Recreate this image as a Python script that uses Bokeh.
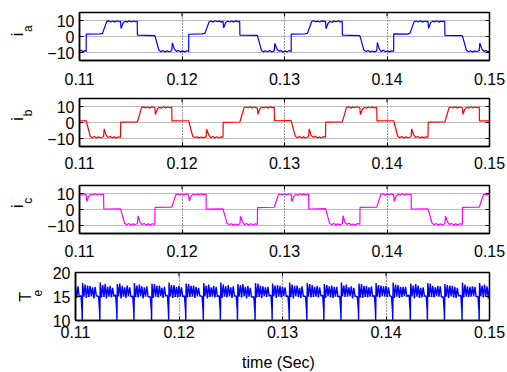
import math
from bokeh.plotting import figure
from bokeh.layouts import column, row
from bokeh.models import Range1d
from bokeh.core.properties import value
from bokeh.embed import file_html
from bokeh.resources import INLINE

FONT = "Liberation Sans"

x_ticks = [0.11, 0.12, 0.13, 0.14, 0.15]
cur_ticks = [-10, 0, 10]
te_ticks = [10, 15, 20]
x_label = "time (Sec)"
y_main = ["i", "i", "i", "T"]
y_sub = ["a", "b", "c", "e"]

ia_t = [0.11000, 0.11020, 0.11035, 0.11050,
        0.11065, 0.11066, 0.11200, 0.11225, 0.11265, 0.11285, 0.11305, 0.11325, 0.11345, 0.11365, 0.11385, 0.11400, 0.11406, 0.11425, 0.11445, 0.11465, 0.11485, 0.11505, 0.11525, 0.11545, 0.11563, 0.11565, 0.11735, 0.11775, 0.11795, 0.11815, 0.11835, 0.11855, 0.11875, 0.11900, 0.11906, 0.11925, 0.11945, 0.11965, 0.11985, 0.12005, 0.12025, 0.12045,
        0.12065, 0.12066, 0.12200, 0.12225, 0.12265, 0.12285, 0.12305, 0.12325, 0.12345, 0.12365, 0.12385, 0.12400, 0.12406, 0.12425, 0.12445, 0.12465, 0.12485, 0.12505, 0.12525, 0.12545, 0.12563, 0.12565, 0.12735, 0.12775, 0.12795, 0.12815, 0.12835, 0.12855, 0.12875, 0.12900, 0.12906, 0.12925, 0.12945, 0.12965, 0.12985, 0.13005, 0.13025, 0.13045,
        0.13065, 0.13066, 0.13200, 0.13225, 0.13265, 0.13285, 0.13305, 0.13325, 0.13345, 0.13365, 0.13385, 0.13400, 0.13406, 0.13425, 0.13445, 0.13465, 0.13485, 0.13505, 0.13525, 0.13545, 0.13563, 0.13565, 0.13735, 0.13775, 0.13795, 0.13815, 0.13835, 0.13855, 0.13875, 0.13900, 0.13906, 0.13925, 0.13945, 0.13965, 0.13985, 0.14005, 0.14025, 0.14045,
        0.14065, 0.14066, 0.14200, 0.14225, 0.14265, 0.14285, 0.14305, 0.14325, 0.14345, 0.14365, 0.14385, 0.14400, 0.14406, 0.14425, 0.14445, 0.14465, 0.14485, 0.14505, 0.14525, 0.14545, 0.14563, 0.14565, 0.14735, 0.14775, 0.14795, 0.14815, 0.14835, 0.14855, 0.14875, 0.14900, 0.14906, 0.14925, 0.14945, 0.14965, 0.14985, 0.15005]
ia_v = [-9.2, -8.6, -9.7, -8.8,
        -9.4, 1.5, 1.6, 2.0, 9.3, 9.8, 9.1, 9.7, 9.0, 9.8, 9.2, 9.6, 5.0, 8.4, 9.5, 9.0, 9.8, 9.1, 9.7, 9.2, 9.6, 0.8, 0.6, -8.6, -9.5, -8.8, -9.7, -9.0, -9.5, -8.9, -4.0, -7.8, -9.3, -8.7, -9.6, -9.0, -9.7, -8.9,
        -9.3, 1.4, 1.6, 2.1, 9.2, 9.7, 9.0, 9.8, 9.2, 9.6, 9.0, 9.7, 5.3, 8.6, 9.6, 9.1, 9.7, 9.0, 9.8, 9.3, 9.5, 0.9, 0.7, -8.7, -9.6, -8.9, -9.5, -8.8, -9.7, -9.0, -4.3, -7.6, -9.2, -8.8, -9.7, -9.1, -9.5, -8.8,
        -9.5, 1.5, 1.7, 2.0, 9.4, 9.9, 9.2, 9.6, 9.1, 9.8, 9.3, 9.7, 4.8, 8.3, 9.4, 9.0, 9.7, 9.2, 9.8, 9.1, 9.6, 0.8, 0.5, -8.5, -9.4, -8.7, -9.6, -9.1, -9.6, -9.0, -3.8, -7.9, -9.4, -8.6, -9.5, -8.9, -9.6, -9.0,
        -9.2, 1.6, 1.5, 2.1, 9.3, 9.7, 9.1, 9.8, 9.0, 9.7, 9.2, 9.5, 5.1, 8.5, 9.6, 9.1, 9.8, 9.0, 9.6, 9.3, 9.7, 0.7, 0.6, -8.6, -9.5, -8.9, -9.7, -9.0, -9.4, -8.8, -4.1, -7.7, -9.3, -8.8, -9.6, -9.1]

ib_t = [0.11000, 0.11040,
        0.11065, 0.11105, 0.11125, 0.11145, 0.11165, 0.11185, 0.11205, 0.11235, 0.11241, 0.11260, 0.11280, 0.11300, 0.11320, 0.11340, 0.11360, 0.11380, 0.11400, 0.11402, 0.11565, 0.11605, 0.11625, 0.11645, 0.11665, 0.11685, 0.11705, 0.11735, 0.11741, 0.11760, 0.11780, 0.11800, 0.11820, 0.11840, 0.11860, 0.11880, 0.11900, 0.11902, 0.12045,
        0.12065, 0.12105, 0.12125, 0.12145, 0.12165, 0.12185, 0.12205, 0.12235, 0.12241, 0.12260, 0.12280, 0.12300, 0.12320, 0.12340, 0.12360, 0.12380, 0.12400, 0.12402, 0.12565, 0.12605, 0.12625, 0.12645, 0.12665, 0.12685, 0.12705, 0.12735, 0.12741, 0.12760, 0.12780, 0.12800, 0.12820, 0.12840, 0.12860, 0.12880, 0.12900, 0.12902, 0.13045,
        0.13065, 0.13105, 0.13125, 0.13145, 0.13165, 0.13185, 0.13205, 0.13235, 0.13241, 0.13260, 0.13280, 0.13300, 0.13320, 0.13340, 0.13360, 0.13380, 0.13400, 0.13402, 0.13565, 0.13605, 0.13625, 0.13645, 0.13665, 0.13685, 0.13705, 0.13735, 0.13741, 0.13760, 0.13780, 0.13800, 0.13820, 0.13840, 0.13860, 0.13880, 0.13900, 0.13902, 0.14045,
        0.14065, 0.14105, 0.14125, 0.14145, 0.14165, 0.14185, 0.14205, 0.14235, 0.14241, 0.14260, 0.14280, 0.14300, 0.14320, 0.14340, 0.14360, 0.14380, 0.14400, 0.14402, 0.14565, 0.14605, 0.14625, 0.14645, 0.14665, 0.14685, 0.14705, 0.14735, 0.14741, 0.14760, 0.14780, 0.14800, 0.14820, 0.14840, 0.14860, 0.14880, 0.14900, 0.14902, 0.15045]
ib_v = [1.0, 1.1,
        1.2, -8.6, -9.5, -8.8, -9.7, -9.0, -9.5, -8.9, -4.0, -7.9, -9.4, -8.7, -9.6, -9.0, -9.6, -8.9, -9.3, 0.2, 0.3, 9.3, 9.8, 9.1, 9.7, 9.0, 9.8, 9.2, 5.0, 8.4, 9.5, 9.0, 9.8, 9.1, 9.7, 9.2, 9.6, 1.0, 1.1,
        1.1, -8.7, -9.4, -8.9, -9.6, -9.1, -9.4, -9.0, -4.2, -7.7, -9.5, -8.8, -9.7, -8.9, -9.5, -9.0, -9.4, 0.1, 0.3, 9.2, 9.7, 9.2, 9.8, 9.1, 9.7, 9.0, 5.2, 8.6, 9.6, 9.1, 9.7, 9.0, 9.8, 9.3, 9.5, 1.1, 1.2,
        1.2, -8.5, -9.6, -8.7, -9.5, -9.0, -9.7, -8.8, -3.9, -8.0, -9.3, -8.6, -9.5, -9.1, -9.7, -8.8, -9.2, 0.2, 0.4, 9.4, 9.9, 9.0, 9.6, 9.2, 9.8, 9.1, 4.9, 8.3, 9.4, 9.0, 9.7, 9.2, 9.6, 9.1, 9.7, 1.0, 1.1,
        1.1, -8.6, -9.5, -8.8, -9.7, -9.0, -9.5, -8.9, -4.1, -7.8, -9.4, -8.7, -9.6, -9.0, -9.6, -8.9, -9.3, 0.2, 0.3, 9.3, 9.7, 9.1, 9.8, 9.0, 9.7, 9.2, 5.1, 8.5, 9.5, 9.0, 9.8, 9.1, 9.7, 9.2, 9.6, 1.0, 1.1]

ic_t = [0.11000, 0.11020, 0.11040,
        0.11065, 0.11071, 0.11090, 0.11110, 0.11130, 0.11150, 0.11170, 0.11190, 0.11210, 0.11235, 0.11237, 0.11400, 0.11440, 0.11460, 0.11480, 0.11500, 0.11520, 0.11540, 0.11565, 0.11571, 0.11590, 0.11610, 0.11630, 0.11650, 0.11670, 0.11690, 0.11710, 0.11735, 0.11737, 0.11900, 0.11940, 0.11960, 0.11980, 0.12000, 0.12020, 0.12040,
        0.12065, 0.12071, 0.12090, 0.12110, 0.12130, 0.12150, 0.12170, 0.12190, 0.12210, 0.12235, 0.12237, 0.12400, 0.12440, 0.12460, 0.12480, 0.12500, 0.12520, 0.12540, 0.12565, 0.12571, 0.12590, 0.12610, 0.12630, 0.12650, 0.12670, 0.12690, 0.12710, 0.12735, 0.12737, 0.12900, 0.12940, 0.12960, 0.12980, 0.13000, 0.13020, 0.13040,
        0.13065, 0.13071, 0.13090, 0.13110, 0.13130, 0.13150, 0.13170, 0.13190, 0.13210, 0.13235, 0.13237, 0.13400, 0.13440, 0.13460, 0.13480, 0.13500, 0.13520, 0.13540, 0.13565, 0.13571, 0.13590, 0.13610, 0.13630, 0.13650, 0.13670, 0.13690, 0.13710, 0.13735, 0.13737, 0.13900, 0.13940, 0.13960, 0.13980, 0.14000, 0.14020, 0.14040,
        0.14065, 0.14071, 0.14090, 0.14110, 0.14130, 0.14150, 0.14170, 0.14190, 0.14210, 0.14235, 0.14237, 0.14400, 0.14440, 0.14460, 0.14480, 0.14500, 0.14520, 0.14540, 0.14565, 0.14571, 0.14590, 0.14610, 0.14630, 0.14650, 0.14670, 0.14690, 0.14710, 0.14735, 0.14737, 0.14900, 0.14940, 0.14960, 0.14980, 0.15000, 0.15020, 0.15040]
ic_v = [9.4, 9.0, 9.8,
        9.3, 5.0, 8.3, 9.5, 9.0, 9.8, 9.1, 9.7, 9.2, 9.6, 0.3, 0.4, -8.6, -9.5, -8.8, -9.7, -9.0, -9.4, -8.9, -4.0, -7.9, -9.4, -8.7, -9.6, -9.0, -9.6, -8.9, -9.3, 1.3, 1.4, 9.3, 9.8, 9.1, 9.7, 9.0, 9.8,
        9.2, 5.3, 8.5, 9.6, 9.1, 9.7, 9.0, 9.8, 9.3, 9.5, 0.2, 0.4, -8.7, -9.4, -8.9, -9.6, -9.1, -9.5, -9.0, -4.2, -7.7, -9.5, -8.8, -9.7, -8.9, -9.5, -9.0, -9.4, 1.2, 1.4, 9.2, 9.7, 9.2, 9.8, 9.1, 9.7,
        9.4, 4.8, 8.2, 9.4, 9.0, 9.9, 9.2, 9.6, 9.1, 9.7, 0.3, 0.5, -8.5, -9.6, -8.7, -9.5, -9.0, -9.7, -8.8, -3.9, -8.0, -9.3, -8.6, -9.5, -9.1, -9.7, -8.8, -9.2, 1.3, 1.5, 9.4, 9.9, 9.0, 9.6, 9.2, 9.8,
        9.3, 5.1, 8.4, 9.5, 9.1, 9.8, 9.0, 9.7, 9.2, 9.6, 0.3, 0.4, -8.6, -9.5, -8.8, -9.7, -9.0, -9.5, -8.9, -4.1, -7.8, -9.4, -8.7, -9.6, -9.0, -9.6, -8.9, -9.3, 1.3, 1.4, 9.3, 9.7, 9.1, 9.8, 9.0, 9.7]

te_t = [0.11000, 0.11012, 0.11024, 0.11036,
        0.11053, 0.11063, 0.11065, 0.11069, 0.11081, 0.11093, 0.11105, 0.11117, 0.11129, 0.11141, 0.11153, 0.11165, 0.11177, 0.11189, 0.11201,
        0.11223, 0.11233, 0.11235, 0.11239, 0.11251, 0.11263, 0.11275, 0.11287, 0.11299, 0.11311, 0.11323, 0.11335, 0.11347, 0.11359, 0.11371,
        0.11388, 0.11398, 0.11400, 0.11404, 0.11416, 0.11428, 0.11440, 0.11452, 0.11464, 0.11476, 0.11488, 0.11500, 0.11512, 0.11524, 0.11536,
        0.11553, 0.11563, 0.11565, 0.11569, 0.11581, 0.11593, 0.11605, 0.11617, 0.11629, 0.11641, 0.11653, 0.11665, 0.11677, 0.11689, 0.11701,
        0.11723, 0.11733, 0.11735, 0.11739, 0.11751, 0.11763, 0.11775, 0.11787, 0.11799, 0.11811, 0.11823, 0.11835, 0.11847, 0.11859, 0.11871,
        0.11888, 0.11898, 0.11900, 0.11904, 0.11916, 0.11928, 0.11940, 0.11952, 0.11964, 0.11976, 0.11988, 0.12000, 0.12012, 0.12024, 0.12036,
        0.12053, 0.12063, 0.12065, 0.12069, 0.12081, 0.12093, 0.12105, 0.12117, 0.12129, 0.12141, 0.12153, 0.12165, 0.12177, 0.12189, 0.12201,
        0.12223, 0.12233, 0.12235, 0.12239, 0.12251, 0.12263, 0.12275, 0.12287, 0.12299, 0.12311, 0.12323, 0.12335, 0.12347, 0.12359, 0.12371,
        0.12388, 0.12398, 0.12400, 0.12404, 0.12416, 0.12428, 0.12440, 0.12452, 0.12464, 0.12476, 0.12488, 0.12500, 0.12512, 0.12524, 0.12536,
        0.12553, 0.12563, 0.12565, 0.12569, 0.12581, 0.12593, 0.12605, 0.12617, 0.12629, 0.12641, 0.12653, 0.12665, 0.12677, 0.12689, 0.12701,
        0.12723, 0.12733, 0.12735, 0.12739, 0.12751, 0.12763, 0.12775, 0.12787, 0.12799, 0.12811, 0.12823, 0.12835, 0.12847, 0.12859, 0.12871,
        0.12888, 0.12898, 0.12900, 0.12904, 0.12916, 0.12928, 0.12940, 0.12952, 0.12964, 0.12976, 0.12988, 0.13000, 0.13012, 0.13024, 0.13036,
        0.13053, 0.13063, 0.13065, 0.13069, 0.13081, 0.13093, 0.13105, 0.13117, 0.13129, 0.13141, 0.13153, 0.13165, 0.13177, 0.13189, 0.13201,
        0.13223, 0.13233, 0.13235, 0.13239, 0.13251, 0.13263, 0.13275, 0.13287, 0.13299, 0.13311, 0.13323, 0.13335, 0.13347, 0.13359, 0.13371,
        0.13388, 0.13398, 0.13400, 0.13404, 0.13416, 0.13428, 0.13440, 0.13452, 0.13464, 0.13476, 0.13488, 0.13500, 0.13512, 0.13524, 0.13536,
        0.13553, 0.13563, 0.13565, 0.13569, 0.13581, 0.13593, 0.13605, 0.13617, 0.13629, 0.13641, 0.13653, 0.13665, 0.13677, 0.13689, 0.13701,
        0.13723, 0.13733, 0.13735, 0.13739, 0.13751, 0.13763, 0.13775, 0.13787, 0.13799, 0.13811, 0.13823, 0.13835, 0.13847, 0.13859, 0.13871,
        0.13888, 0.13898, 0.13900, 0.13904, 0.13916, 0.13928, 0.13940, 0.13952, 0.13964, 0.13976, 0.13988, 0.14000, 0.14012, 0.14024, 0.14036,
        0.14053, 0.14063, 0.14065, 0.14069, 0.14081, 0.14093, 0.14105, 0.14117, 0.14129, 0.14141, 0.14153, 0.14165, 0.14177, 0.14189, 0.14201,
        0.14223, 0.14233, 0.14235, 0.14239, 0.14251, 0.14263, 0.14275, 0.14287, 0.14299, 0.14311, 0.14323, 0.14335, 0.14347, 0.14359, 0.14371,
        0.14388, 0.14398, 0.14400, 0.14404, 0.14416, 0.14428, 0.14440, 0.14452, 0.14464, 0.14476, 0.14488, 0.14500, 0.14512, 0.14524, 0.14536,
        0.14553, 0.14563, 0.14565, 0.14569, 0.14581, 0.14593, 0.14605, 0.14617, 0.14629, 0.14641, 0.14653, 0.14665, 0.14677, 0.14689, 0.14701,
        0.14723, 0.14733, 0.14735, 0.14739, 0.14751, 0.14763, 0.14775, 0.14787, 0.14799, 0.14811, 0.14823, 0.14835, 0.14847, 0.14859, 0.14871,
        0.14888, 0.14898, 0.14900, 0.14904, 0.14916, 0.14928, 0.14940, 0.14952, 0.14964, 0.14976, 0.14988, 0.15000, 0.15012, 0.15024, 0.15036]
te_v = [17.0, 14.7, 17.1, 14.9,
        15.2, 12.0, 10.1, 17.8, 15.0, 17.5, 14.7, 17.3, 14.9, 17.2, 15.1, 16.9, 14.6, 17.0, 15.2,
        15.0, 11.8, 10.1, 17.9, 14.8, 17.4, 14.9, 17.6, 14.6, 17.0, 15.0, 17.2, 14.8, 16.8, 15.1,
        15.3, 12.2, 10.1, 17.6, 15.1, 17.7, 14.6, 17.2, 15.0, 16.9, 14.7, 17.3, 15.1, 16.9, 14.9,
        15.1, 11.9, 10.1, 17.8, 14.9, 17.3, 14.8, 17.5, 15.1, 17.1, 14.6, 16.9, 15.0, 17.1, 15.0,
        14.9, 12.1, 10.1, 17.7, 14.7, 17.6, 15.0, 17.2, 14.8, 17.3, 15.1, 16.8, 14.7, 17.0, 15.2,
        15.2, 11.9, 10.1, 17.9, 15.0, 17.4, 14.7, 17.4, 14.9, 17.0, 14.8, 17.2, 15.0, 16.9, 15.0,
        15.1, 12.1, 10.1, 17.7, 14.8, 17.6, 14.9, 17.2, 15.0, 17.3, 14.7, 17.0, 15.1, 16.8, 15.2,
        15.0, 11.9, 10.1, 17.8, 15.1, 17.3, 14.6, 17.5, 14.9, 16.9, 15.0, 17.2, 14.8, 17.0, 15.0,
        15.2, 12.0, 10.1, 17.9, 14.7, 17.5, 15.0, 17.1, 14.8, 17.4, 15.1, 16.9, 14.7, 17.1, 15.1,
        15.1, 12.2, 10.1, 17.6, 15.0, 17.4, 14.8, 17.6, 15.1, 17.0, 14.6, 17.2, 15.0, 16.8, 14.9,
        14.9, 11.8, 10.1, 17.8, 14.8, 17.7, 14.9, 17.3, 14.7, 17.1, 15.1, 16.9, 14.9, 17.0, 15.2,
        15.3, 12.1, 10.1, 17.7, 15.1, 17.3, 14.7, 17.4, 15.0, 17.2, 14.8, 17.0, 15.1, 16.9, 15.0,
        15.1, 12.0, 10.1, 17.9, 14.9, 17.5, 14.6, 17.2, 15.1, 17.3, 14.9, 16.8, 14.7, 17.1, 15.1,
        15.0, 11.9, 10.1, 17.8, 15.0, 17.6, 14.8, 17.4, 14.9, 17.0, 15.0, 17.2, 14.8, 16.9, 15.2,
        15.2, 12.2, 10.1, 17.6, 14.7, 17.4, 15.1, 17.1, 14.8, 17.3, 14.7, 17.0, 15.0, 17.0, 14.9,
        15.1, 11.8, 10.1, 17.9, 15.1, 17.3, 14.9, 17.5, 15.0, 16.9, 15.1, 17.1, 14.6, 16.8, 15.1,
        14.9, 12.1, 10.1, 17.7, 14.8, 17.6, 14.7, 17.2, 14.9, 17.2, 14.8, 16.9, 15.0, 17.1, 15.0,
        15.2, 12.0, 10.1, 17.8, 15.0, 17.4, 14.8, 17.3, 15.1, 17.1, 15.0, 17.2, 14.9, 16.9, 15.2,
        15.0, 11.9, 10.1, 17.9, 14.7, 17.5, 15.0, 17.4, 14.7, 17.0, 14.9, 17.0, 15.1, 17.0, 15.0,
        15.3, 12.1, 10.1, 17.7, 15.1, 17.3, 14.6, 17.6, 15.0, 17.3, 14.7, 16.8, 14.8, 16.9, 15.1,
        15.1, 12.2, 10.1, 17.8, 14.9, 17.7, 14.9, 17.2, 14.8, 16.9, 15.1, 17.2, 15.0, 17.1, 14.9,
        14.9, 11.8, 10.1, 17.6, 15.0, 17.4, 14.7, 17.3, 15.1, 17.2, 14.8, 17.0, 14.7, 16.8, 15.2,
        15.2, 12.0, 10.1, 17.9, 14.8, 17.5, 15.0, 17.1, 14.9, 17.0, 15.0, 17.1, 15.1, 17.0, 15.0,
        15.0, 12.1, 10.1, 17.8, 15.1, 17.3, 14.8, 17.5, 15.0, 17.1, 14.6, 16.9, 14.9, 16.9, 15.1]

LABEL_W = 44
FRAME_H = 48


def blank_fig(width, height):
    q = figure(width=width, height=height, output_backend="svg",
               toolbar_location=None, x_range=Range1d(0, width),
               y_range=Range1d(0, height), min_border=0,
               x_axis_location=None, y_axis_location=None,
               outline_line_color=None, background_fill_color="white",
               border_fill_color="white")
    q.xgrid.visible = False
    q.ygrid.visible = False
    return q


def label_fig(height, main, sub, main_xy, sub_xy):
    q = blank_fig(LABEL_W, height)
    q.text(x=[main_xy[0]], y=[height - main_xy[1]], text=[main],
           angle=math.pi / 2, text_font=value(FONT),
           text_font_size=value("16px"), text_align="left",
           text_baseline="alphabetic", text_color="black")
    q.text(x=[sub_xy[0]], y=[height - sub_xy[1]], text=[sub],
           angle=math.pi / 2, text_font=value(FONT),
           text_font_size=value("12px"), text_align="left",
           text_baseline="alphabetic", text_color="black")
    return q


def make_panel(t, v, color, width, y_start, y_end, yticks, top, bottom, standoff):
    height = top + FRAME_H + bottom
    p = figure(width=507 - LABEL_W, height=height, output_backend="svg",
               toolbar_location=None, x_range=Range1d(0.11, 0.15),
               y_range=Range1d(y_start, y_end),
               min_border_left=75 - LABEL_W, min_border_right=18,
               min_border_top=top, min_border_bottom=bottom,
               background_fill_color="white", border_fill_color="white")
    p.line(t, v, line_color=color, line_width=width)
    p.outline_line_color = "black"
    p.outline_line_width = 1.5
    p.xaxis.ticker = x_ticks
    p.yaxis.ticker = yticks
    for ax in (p.xaxis[0], p.yaxis[0]):
        ax.major_tick_in = 4
        ax.major_tick_out = 0
        ax.minor_tick_line_color = None
        ax.axis_line_color = "black"
        ax.axis_line_width = 1.5
        ax.major_tick_line_color = "black"
        ax.major_label_text_font = FONT
        ax.major_label_text_font_size = "16px"
        ax.major_label_text_color = "black"
    p.xaxis[0].major_label_standoff = standoff
    p.yaxis[0].major_label_standoff = 5
    # mirrored inward ticks on the top and right edges (MATLAB box style)
    dy = 4 * (y_end - y_start) / FRAME_H
    dx = 4 * (x_ticks[-1] - x_ticks[0]) / 414
    p.segment(x0=x_ticks, y0=[y_end] * len(x_ticks), x1=x_ticks,
              y1=[y_end - dy] * len(x_ticks), line_color="black", line_width=1)
    p.segment(x0=[x_ticks[-1]] * len(yticks), y0=yticks,
              x1=[x_ticks[-1] - dx] * len(yticks), y1=yticks,
              line_color="black", line_width=1)
    p.xgrid.grid_line_color = "#333333"
    p.xgrid.grid_line_dash = "1 2"
    p.ygrid.grid_line_color = "#777777"
    p.ygrid.grid_line_dash = "1 1"
    return p


p1 = make_panel(ia_t, ia_v, "#0000FF", 1.2, -15, 15, cur_ticks, 12, 31, 12)
p2 = make_panel(ib_t, ib_v, "#FF0000", 1.2, -15, 15, cur_ticks, 7, 31, 10)
p3 = make_panel(ic_t, ic_v, "#FF00FF", 1.2, -15, 15, cur_ticks, 8, 31, 11)
p4 = make_panel(te_t, te_v, "#0000FF", 1.4, 10, 20, te_ticks, 8, 28, 5)

rows = []
for p, k in ((p1, 0), (p2, 1), (p3, 2), (p4, 3)):
    h = p.height
    c = p.min_border_top + FRAME_H // 2
    if k < 3:
        q = label_fig(h, y_main[k], y_sub[k], (17, c + 9), (27, c + 1))
    else:
        q = label_fig(h, y_main[k], y_sub[k], (25, c + 19), (37, c + 10))
    rows.append(row(q, p, spacing=0))

xl = blank_fig(507, 24)
xl.text(x=[278], y=[10], text=[x_label], text_font=value(FONT),
        text_font_size=value("16px"), text_align="center",
        text_baseline="middle", text_color="black")
rows.append(xl)

layout = column(*rows, spacing=0)
open("out.html", "w").write(file_html(layout, INLINE))
